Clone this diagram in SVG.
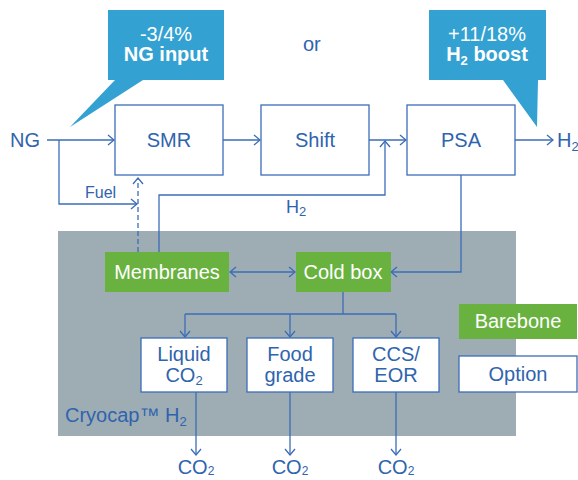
<svg xmlns="http://www.w3.org/2000/svg" width="578" height="480" viewBox="0 0 578 480">
<style>
text{font-family:"Liberation Sans",Arial,sans-serif;font-size:20px;fill:#2f64ae}
.w{fill:#ffffff}
.b{font-weight:bold}
.c{text-anchor:middle}
.ln{fill:none;stroke:#3b6db7;stroke-width:1.3}
.box{fill:#ffffff;stroke:#3b6db7;stroke-width:1.3}
.g{fill:#69b23f}
.call{fill:#33a2d3}
</style>
<defs>
<marker id="a" viewBox="-7 -6 8 12" refX="0" refY="0" markerWidth="8" markerHeight="12" orient="auto-start-reverse" markerUnits="userSpaceOnUse">
<path d="M-6,-5 L0,0 L-6,5" fill="none" stroke="#3b6db7" stroke-width="1.3"/>
</marker>
</defs>
<rect x="58" y="231" width="458" height="205" fill="#9eacb4"/>
<g id="callout1">
<path class="call" d="M108,10 H224 V80 H143 L70,127 L115,80 H108 Z"/>
<text class="w c" x="166" y="41">-3/4%</text>
<text class="w c b" x="166" y="61">NG input</text>
</g>
<g id="callout2">
<path class="call" d="M429,10 H546 V80 H538 L537,127 L503,80 H429 Z"/>
<text class="w c" x="487" y="41">+11/18%</text>
<text class="w c b" x="487" y="61">H<tspan font-size="13" dy="4">2</tspan><tspan dy="-4"> boost</tspan></text>
</g>
<text x="303" y="51">or</text>
<text x="10" y="147">NG</text>
<text x="557" y="147">H<tspan font-size="13" dy="4">2</tspan></text>
<text x="85" y="198" style="font-size:16px">Fuel</text>
<text x="286" y="213" style="font-size:18px">H<tspan font-size="13" dy="3">2</tspan></text>
<g id="connectors">
<path class="ln" d="M47,140 H114" marker-end="url(#a)"/>
<path class="ln" d="M59,140 V204 H137" marker-end="url(#a)"/>
<path class="ln" d="M138,252 V178" stroke-dasharray="5,3" marker-end="url(#a)"/>
<path class="ln" d="M223,140 H260" marker-end="url(#a)"/>
<path class="ln" d="M369,140 H406" marker-end="url(#a)"/>
<path class="ln" d="M159,252 V195 H385 V141" marker-end="url(#a)"/>
<path class="ln" d="M515,140 H553" marker-end="url(#a)"/>
<path class="ln" d="M461,175 V272 H391" marker-end="url(#a)"/>
<path class="ln" d="M230,272 H295" marker-start="url(#a)" marker-end="url(#a)"/>
<path class="ln" d="M343,292 V314"/>
<path class="ln" d="M185,314 H396"/>
<path class="ln" d="M185,314 V337" marker-end="url(#a)"/>
<path class="ln" d="M290,314 V337" marker-end="url(#a)"/>
<path class="ln" d="M396,314 V337" marker-end="url(#a)"/>
<path class="ln" d="M196,392 V455" marker-end="url(#a)"/>
<path class="ln" d="M290,392 V455" marker-end="url(#a)"/>
<path class="ln" d="M396,392 V455" marker-end="url(#a)"/>
</g>
<g id="smr"><rect class="box" x="115" y="105" width="108" height="70"/><text class="c" x="169" y="147">SMR</text></g>
<g id="shift"><rect class="box" x="261" y="105" width="108" height="70"/><text class="c" x="315" y="147">Shift</text></g>
<g id="psa"><rect class="box" x="407" y="105" width="108" height="70"/><text class="c" x="461" y="147">PSA</text></g>
<g id="membranes"><rect class="g" x="105" y="252" width="124" height="40"/><text class="w c" x="167" y="279">Membranes</text></g>
<g id="coldbox"><rect class="g" x="296" y="252" width="95" height="40"/><text class="w c" x="343" y="279">Cold box</text></g>
<g id="liquid"><rect class="box" x="141" y="338" width="86" height="54"/><text class="c" x="184" y="361">Liquid</text><text class="c" x="184" y="382">CO<tspan font-size="13" dy="3">2</tspan></text></g>
<g id="food"><rect class="box" x="247" y="338" width="86" height="54"/><text class="c" x="290" y="361">Food</text><text class="c" x="290" y="382">grade</text></g>
<g id="ccs"><rect class="box" x="353" y="338" width="86" height="54"/><text class="c" x="396" y="361">CCS/</text><text class="c" x="396" y="382">EOR</text></g>
<g id="barebone"><rect class="g" x="459" y="304" width="118" height="35"/><text class="w c" x="518" y="328">Barebone</text></g>
<g id="option"><rect class="box" x="459" y="356" width="118" height="36"/><text class="c" x="518" y="381">Option</text></g>
<text x="65" y="422">Cryocap™ H<tspan font-size="13" dy="4">2</tspan></text>
<text class="c" x="196" y="474">CO<tspan font-size="12" dy="1">2</tspan></text>
<text class="c" x="290" y="474">CO<tspan font-size="12" dy="1">2</tspan></text>
<text class="c" x="396" y="474">CO<tspan font-size="12" dy="1">2</tspan></text>
</svg>
